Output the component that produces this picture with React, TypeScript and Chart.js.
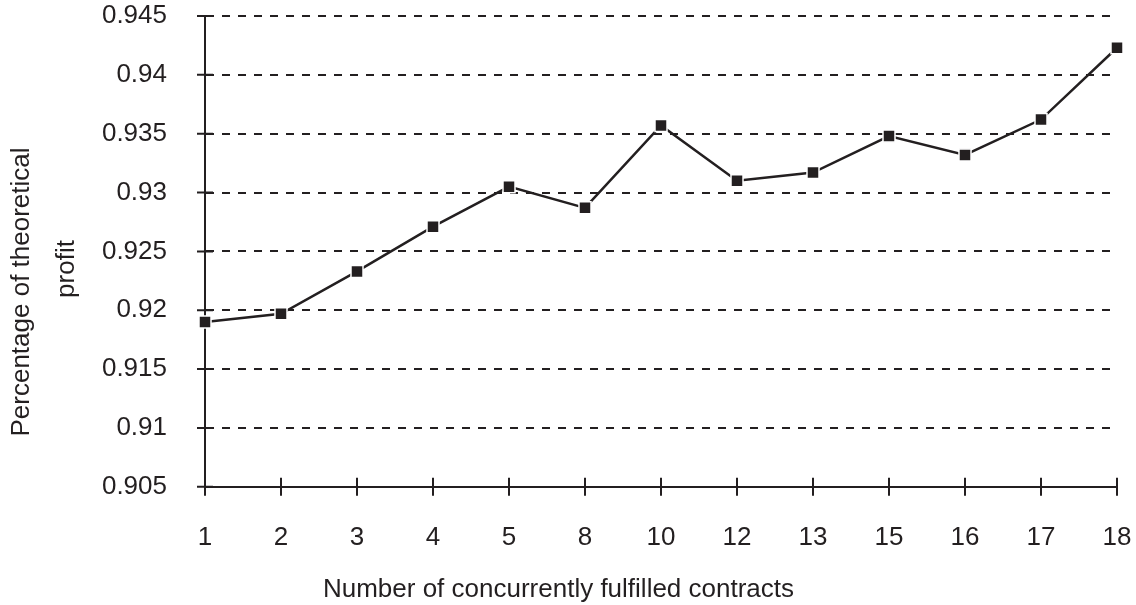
import React, { useEffect, useRef } from 'react';
import { Chart, registerables } from 'chart.js';

Chart.register(...registerables);

// Number of contracts handled at the same time (category axis)
const contracts = ['1', '2', '3', '4', '5', '8', '10', '12', '13', '15', '16', '17', '18'];
// Share of the theoretical profit achieved
const profitShare = [0.919, 0.9197, 0.9233, 0.9271, 0.9305, 0.9287, 0.9357, 0.931, 0.9317, 0.9348, 0.9332, 0.9362, 0.9423];
// Value axis ticks
const yTickValues = [0.905, 0.91, 0.915, 0.92, 0.925, 0.93, 0.935, 0.94, 0.945];
const yTickLabels = ['0.905', '0.91', '0.915', '0.92', '0.925', '0.93', '0.935', '0.94', '0.945'];
const xTitle = 'Number of concurrently fulfilled contracts';
const yTitleLines = ['Percentage of theoretical', 'profit'];

const INK = '#231f20';
const FONT = "'Liberation Sans', Arial, Helvetica, sans-serif";
const FONT_SIZE = 26;
const CLEAR = 'rgba(0,0,0,0)';

// Short tick marks that cross both axis lines
const crossTicks = {
  id: 'crossTicks',
  beforeDatasetsDraw(chart: any) {
    const { ctx, scales } = chart;
    const x = scales.x;
    const y = scales.y;
    ctx.save();
    ctx.strokeStyle = INK;
    ctx.lineWidth = 2;
    ctx.beginPath();
    y.ticks.forEach((_: any, i: number) => {
      const py = y.getPixelForTick(i);
      ctx.moveTo(x.left - 8, py);
      ctx.lineTo(x.left + 8, py);
    });
    x.ticks.forEach((_: any, i: number) => {
      const px = x.getPixelForTick(i);
      ctx.moveTo(px, y.bottom - 9);
      ctx.lineTo(px, y.bottom + 9);
    });
    ctx.stroke();
    ctx.restore();
  },
};

// Two-line rotated title for the value axis
const valueAxisTitle = {
  id: 'valueAxisTitle',
  afterDraw(chart: any) {
    const { ctx } = chart;
    const anchors = [
      [22, 292],
      [67, 269],
    ];
    ctx.save();
    ctx.fillStyle = INK;
    ctx.font = `${FONT_SIZE}px ${FONT}`;
    ctx.textAlign = 'center';
    ctx.textBaseline = 'middle';
    yTitleLines.forEach((line, i) => {
      ctx.save();
      ctx.translate(anchors[i][0], anchors[i][1]);
      ctx.rotate(-Math.PI / 2);
      ctx.fillText(line, 0, 0);
      ctx.restore();
    });
    ctx.restore();
  },
};

export default function App() {
  const canvasRef = useRef<HTMLCanvasElement | null>(null);

  useEffect(() => {
    if (!canvasRef.current) return;
    const chart = new Chart(canvasRef.current, {
      type: 'line',
      data: {
        labels: contracts,
        datasets: [
          {
            data: profitShare,
            borderColor: INK,
            borderWidth: 2.5,
            tension: 0,
            pointStyle: 'rect',
            pointRadius: 8.5,
            pointHoverRadius: 8.5,
            pointBackgroundColor: INK,
            pointBorderColor: '#ffffff',
            pointBorderWidth: 1.5,
            clip: false as any,
          },
        ],
      },
      options: {
        responsive: false,
        animation: false,
        layout: { padding: { top: 16, right: 19, left: 0, bottom: 0 } },
        plugins: {
          legend: { display: false },
          tooltip: { enabled: false },
          title: {
            display: true,
            position: 'bottom',
            text: xTitle,
            color: INK,
            font: { family: FONT, size: FONT_SIZE, weight: 'normal' },
            padding: { top: 5, bottom: 0 },
          },
        },
        scales: {
          x: {
            type: 'category',
            offset: false,
            afterFit: (scale: any) => {
              scale.height = 82;
            },
            grid: {
              display: true,
              drawOnChartArea: false,
              drawTicks: true,
              tickLength: 35,
              tickColor: CLEAR,
              offset: false,
            },
            border: { display: true, color: INK, width: 2 },
            ticks: {
              color: INK,
              font: { family: FONT, size: FONT_SIZE },
              padding: 0,
              autoSkip: false,
              maxRotation: 0,
              minRotation: 0,
            },
          },
          y: {
            type: 'linear',
            min: 0.905,
            max: 0.945,
            afterFit: (scale: any) => {
              scale.width = 205;
            },
            afterBuildTicks: (scale: any) => {
              scale.ticks = yTickValues.map((v) => ({ value: v }));
            },
            grid: { color: INK, lineWidth: 2, drawTicks: true, tickLength: 38, tickColor: CLEAR },
            border: { display: true, color: INK, width: 2, dash: [8, 8] },
            ticks: {
              color: INK,
              font: { family: FONT, size: FONT_SIZE },
              padding: 0,
              callback: (_v: any, i: number) => yTickLabels[i],
            },
          },
        },
      },
      plugins: [crossTicks, valueAxisTitle],
    });
    return () => chart.destroy();
  }, []);

  return (
    <div style={{ position: 'fixed', left: 0, top: 0, width: 1136, height: 605, background: '#ffffff' }}>
      <canvas ref={canvasRef} width={1136} height={605} style={{ display: 'block' }} />
    </div>
  );
}
